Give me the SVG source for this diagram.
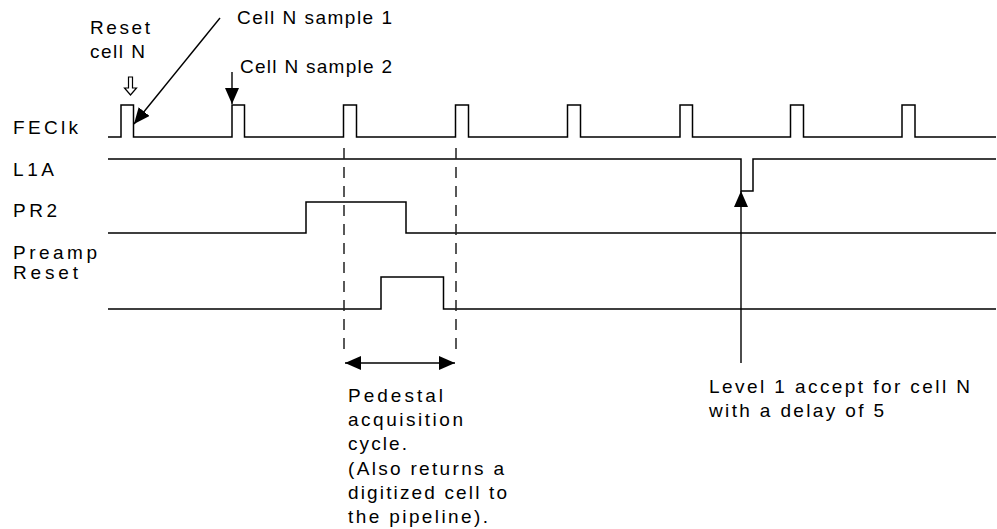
<svg xmlns="http://www.w3.org/2000/svg" width="997" height="529" viewBox="0 0 997 529">
<style>
  text { font-family: "Liberation Sans", Arial, sans-serif; font-size: 19px; fill: #000; }
  .sig { fill: none; stroke: #000; stroke-width: 1.5; }
  .dash { fill: none; stroke: #222; stroke-width: 1.5; stroke-dasharray: 11 8; }
  .ln { fill: none; stroke: #000; stroke-width: 1.4; }
</style>
<defs>
  <marker id="ah" viewBox="0 0 16 14" refX="16" refY="7" markerWidth="16" markerHeight="14" markerUnits="userSpaceOnUse" orient="auto">
    <path d="M0,0 L16,7 L0,14 Z" fill="#000"/>
  </marker>
  <marker id="ahs" viewBox="0 0 16 14" refX="0" refY="7" markerWidth="16" markerHeight="14" markerUnits="userSpaceOnUse" orient="auto">
    <path d="M16,0 L0,7 L16,14 Z" fill="#000"/>
  </marker>
</defs>
<rect width="997" height="529" fill="#fff"/>

<g id="labels">
  <text x="13" y="134" textLength="65" lengthAdjust="spacing">FEClk</text>
  <text x="13" y="176" textLength="41" lengthAdjust="spacing">L1A</text>
  <text x="13" y="217" textLength="44" lengthAdjust="spacing">PR2</text>
  <text x="13" y="259" textLength="84" lengthAdjust="spacing">Preamp</text>
  <text x="13" y="279" textLength="65" lengthAdjust="spacing">Reset</text>
</g>

<g id="signals">
  <path id="feclk" class="sig" d="M108,137 H121 V105 H133.5 V137 H232 V105 H244.5 V137 H343.5 V105 H356.5 V137 H455.5 V105 H468.5 V137 H567.5 V105 H580.5 V137 H680 V105 H692.5 V137 H790.5 V105 H803.5 V137 H902 V105 H915 V137 H996"/>
  <path id="l1a" class="sig" d="M108,159 H741 V191 H753 V159 H996"/>
  <path id="pr2" class="sig" d="M108,233 H306 V202 H406 V233 H996"/>
  <path id="preamp-reset" class="sig" d="M108,309 H381 V277 H443.5 V309 H996"/>
</g>

<g id="connectors">
  <line class="dash" x1="344" y1="148" x2="344" y2="352"/>
  <line class="dash" x1="456" y1="148" x2="456" y2="352"/>
  <line class="ln" x1="345" y1="363" x2="455" y2="363" marker-start="url(#ahs)" marker-end="url(#ah)"/>
  <line class="ln" x1="220" y1="18" x2="134" y2="124" marker-end="url(#ah)"/>
  <line class="ln" x1="232" y1="72" x2="232" y2="104" marker-end="url(#ah)"/>
  <line class="ln" x1="741" y1="363" x2="741" y2="191" marker-end="url(#ah)"/>
  <polygon points="128.5,77 132.5,77 132.5,88 136.5,88 130.5,95 124.5,88 128.5,88" fill="#fff" stroke="#000" stroke-width="1.2"/>
</g>

<g id="reset-cell-n">
  <text x="90" y="34" textLength="60" lengthAdjust="spacing">Reset</text>
  <text x="90" y="58" textLength="55" lengthAdjust="spacing">cell N</text>
</g>
<g id="cell-n-sample-1">
  <text x="237" y="24" textLength="155" lengthAdjust="spacing">Cell N sample 1</text>
</g>
<g id="cell-n-sample-2">
  <text x="240" y="73" textLength="152" lengthAdjust="spacing">Cell N sample 2</text>
</g>
<g id="pedestal-note">
  <text x="348" y="402" textLength="95" lengthAdjust="spacing">Pedestal</text>
  <text x="348" y="426" textLength="115" lengthAdjust="spacing">acquisition</text>
  <text x="348" y="450" textLength="59" lengthAdjust="spacing">cycle.</text>
  <text x="348" y="475" textLength="156" lengthAdjust="spacing">(Also returns a</text>
  <text x="348" y="499" textLength="159" lengthAdjust="spacing">digitized cell to</text>
  <text x="348" y="523" textLength="140" lengthAdjust="spacing">the pipeline).</text>
</g>
<g id="level1-note">
  <text x="709" y="393" textLength="261" lengthAdjust="spacing">Level 1 accept for cell N</text>
  <text x="709" y="417" textLength="175" lengthAdjust="spacing">with a delay of 5</text>
</g>
</svg>
